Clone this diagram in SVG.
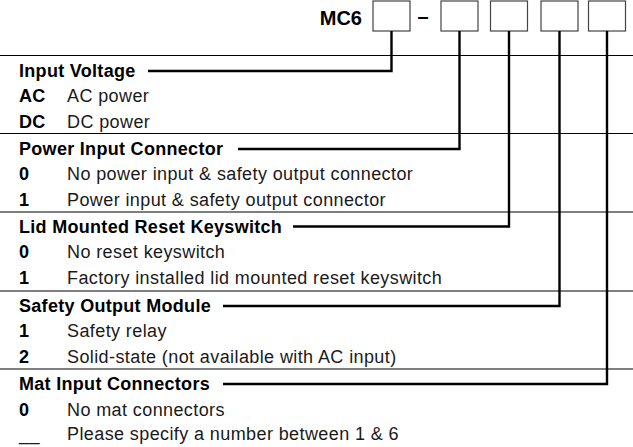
<svg xmlns="http://www.w3.org/2000/svg" width="633" height="447" viewBox="0 0 633 447">
<style>
.h{font-family:"Liberation Sans",Arial,sans-serif;font-weight:bold;font-size:18px;letter-spacing:0.3px;fill:#000}
.d{font-family:"Liberation Sans",Arial,sans-serif;font-size:18px;letter-spacing:0.4px;fill:#1a1a1a}
.t{font-family:"Liberation Sans",Arial,sans-serif;font-weight:bold;font-size:20px;fill:#000}
.sep{stroke:#000;stroke-width:1.2}
.con{stroke:#000;stroke-width:2.4;fill:none}
.box{fill:#fff;stroke:#444;stroke-width:1.2}
</style>
<rect width="633" height="447" fill="#fff"/>
<g id="title">
<text class="t" x="362" y="25" text-anchor="end">MC6</text>
<text class="t" x="423" y="23" text-anchor="middle">–</text>
</g>
<g id="boxes">
<rect id="box1" class="box" x="373" y="1" width="37" height="30"/>
<rect id="box2" class="box" x="441" y="1" width="37" height="30"/>
<rect id="box3" class="box" x="490.5" y="1" width="37" height="30"/>
<rect id="box4" class="box" x="541" y="1" width="37" height="30"/>
<rect id="box5" class="box" x="588.5" y="1" width="37" height="30"/>
</g>
<g id="separators">
<line class="sep" x1="0" y1="55.5" x2="633" y2="55.5"/>
<line class="sep" x1="0" y1="133.5" x2="633" y2="133.5"/>
<line class="sep" x1="0" y1="212" x2="633" y2="212"/>
<line class="sep" x1="0" y1="291" x2="633" y2="291"/>
<line class="sep" x1="0" y1="369" x2="633" y2="369"/>
</g>
<g id="connectors">
<path class="con" d="M391.5 31V71H148"/>
<path class="con" d="M459.5 31V149H238"/>
<path class="con" d="M509 31V226.5H293"/>
<path class="con" d="M559.5 31V306H223"/>
<path class="con" d="M607 31V384H223"/>
</g>
<g id="input-voltage">
<text class="h" x="19" y="77">Input Voltage</text>
<text class="h" x="19" y="102">AC</text><text class="d" x="67" y="102">AC power</text>
<text class="h" x="19" y="127.5">DC</text><text class="d" x="67" y="127.5">DC power</text>
</g>
<g id="power-input-connector">
<text class="h" x="19" y="155">Power Input Connector</text>
<text class="h" x="19" y="180">0</text><text class="d" x="67" y="180">No power input &amp; safety output connector</text>
<text class="h" x="19" y="205.5">1</text><text class="d" x="67" y="205.5">Power input &amp; safety output connector</text>
</g>
<g id="lid-mounted-reset-keyswitch">
<text class="h" x="19" y="232.5">Lid Mounted Reset Keyswitch</text>
<text class="h" x="19" y="258">0</text><text class="d" x="67" y="258">No reset keyswitch</text>
<text class="h" x="19" y="284">1</text><text class="d" x="67" y="284">Factory installed lid mounted reset keyswitch</text>
</g>
<g id="safety-output-module">
<text class="h" x="19" y="311.5">Safety Output Module</text>
<text class="h" x="19" y="337">1</text><text class="d" x="67" y="337">Safety relay</text>
<text class="h" x="19" y="362.5">2</text><text class="d" x="67" y="362.5">Solid-state (not available with AC input)</text>
</g>
<g id="mat-input-connectors">
<text class="h" x="19" y="389.5">Mat Input Connectors</text>
<text class="h" x="19" y="415.5">0</text><text class="d" x="67" y="415.5">No mat connectors</text>
<text class="d" x="19" y="440">__</text><text class="d" x="67" y="440">Please specify a number between 1 &amp; 6</text>
</g>
</svg>
